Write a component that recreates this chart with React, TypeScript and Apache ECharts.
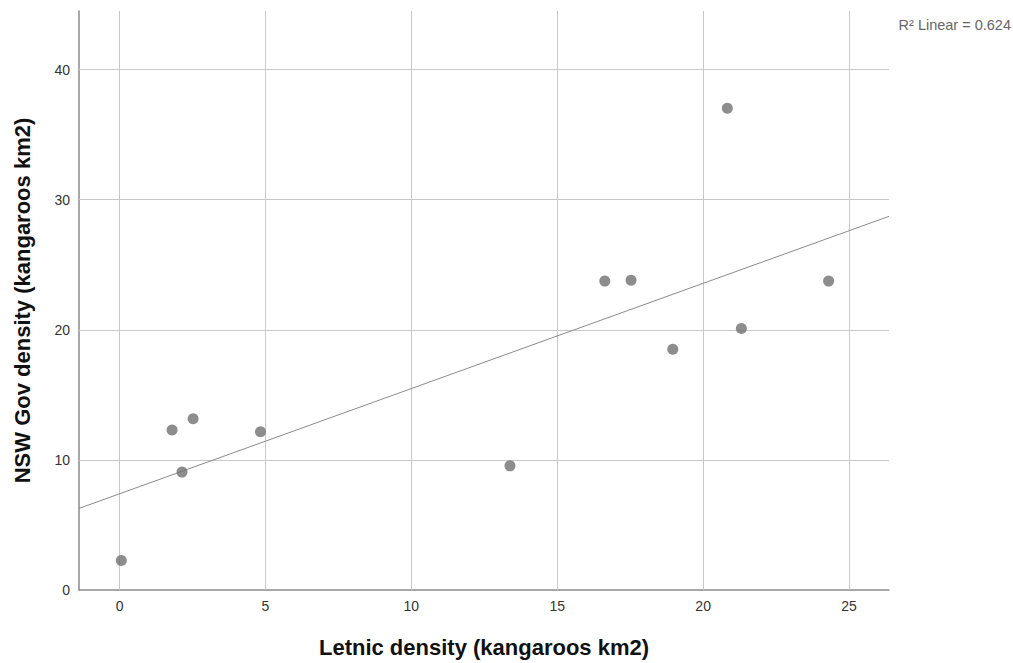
import React, { useEffect, useRef } from "react";
import * as echarts from "echarts";

const letnicDensity = [0.06, 1.8, 2.14, 2.52, 4.83, 13.38, 16.63, 17.53, 18.96, 20.83, 21.31, 24.3];
const nswDensity = [2.27, 12.3, 9.06, 13.17, 12.17, 9.54, 23.74, 23.81, 18.5, 37.02, 20.1, 23.74];
const xTicks = [0, 5, 10, 15, 20, 25];
const yTicks = [0, 10, 20, 30, 40];
const xRange = [-1.39, 26.37];
const yRange = [0, 44.5];
const xTitle = "Letnic density (kangaroos km2)";
const yTitle = "NSW Gov density (kangaroos km2)";
const r2Label = "R² Linear = 0.624";

function fitLine(xs: number[], ys: number[]) {
  const n = xs.length;
  const mx = xs.reduce((a, b) => a + b, 0) / n;
  const my = ys.reduce((a, b) => a + b, 0) / n;
  let sxy = 0, sxx = 0;
  for (let i = 0; i < n; i++) {
    sxy += (xs[i] - mx) * (ys[i] - my);
    sxx += (xs[i] - mx) ** 2;
  }
  const slope = sxy / sxx;
  return { slope, intercept: my - slope * mx };
}

export default function App() {
  const ref = useRef<HTMLDivElement>(null);
  useEffect(() => {
    document.body.style.margin = "0";
    const chart = echarts.init(ref.current!, null, { renderer: "svg" });
    const { slope, intercept } = fitLine(letnicDensity, nswDensity);
    const lineData = xRange.map((x) => [x, intercept + slope * x]);
    const font = "Liberation Sans, Arial, sans-serif";
    const gridLine = { color: "#c8c8c8", width: 1, type: "solid" };
    chart.setOption({
      animation: false,
      backgroundColor: "#ffffff",
      grid: { left: 79, right: 124, top: 11, bottom: 71, containLabel: false },
      xAxis: {
        type: "value",
        min: xRange[0],
        max: xRange[1],
        name: xTitle,
        nameLocation: "middle",
        nameGap: 46,
        nameTextStyle: { fontFamily: font, fontSize: 22, fontWeight: "bold", color: "#111" },
        axisLine: { show: true, onZero: false, lineStyle: { color: "#8a8a8a", width: 1.5 } },
        axisTick: { show: false, customValues: xTicks },
        axisLabel: { fontFamily: font, fontSize: 14, color: "#333", margin: 9, customValues: xTicks },
        splitLine: { show: false },
      },
      yAxis: {
        type: "value",
        min: yRange[0],
        max: yRange[1],
        name: yTitle,
        nameLocation: "middle",
        nameGap: 46,
        nameTextStyle: { fontFamily: font, fontSize: 22, fontWeight: "bold", color: "#111" },
        axisLine: { show: true, onZero: false, lineStyle: { color: "#8a8a8a", width: 1.5 } },
        axisTick: { show: false, customValues: yTicks },
        axisLabel: { fontFamily: font, fontSize: 14, color: "#333", margin: 9, customValues: yTicks },
        splitLine: { show: false },
      },
      graphic: [
        {
          type: "text",
          x: 1011,
          y: 25,
          style: {
            text: r2Label, fontFamily: font, fontSize: 14.5, fill: "#666",
            align: "right", verticalAlign: "middle",
          },
        },
      ],
      series: [
        {
          type: "line",
          data: lineData,
          symbol: "none",
          lineStyle: { color: "#8c8c8c", width: 1 },
          silent: true,
          z: 2,
          markLine: {
            silent: true,
            symbol: "none",
            label: { show: false },
            lineStyle: gridLine,
            data: [
              ...xTicks.map((v) => ({ xAxis: v })),
              ...yTicks.filter((v) => v > 0).map((v) => ({ yAxis: v })),
            ],
            z: 1,
          },
        },
        {
          type: "scatter",
          data: letnicDensity.map((x, i) => [x, nswDensity[i]]),
          symbol: "circle",
          symbolSize: 11,
          itemStyle: { color: "#707070" },
          z: 3,
        },
      ],
    });
    return () => chart.dispose();
  }, []);
  return <div ref={ref} style={{ width: 1013, height: 663 }} />;
}
